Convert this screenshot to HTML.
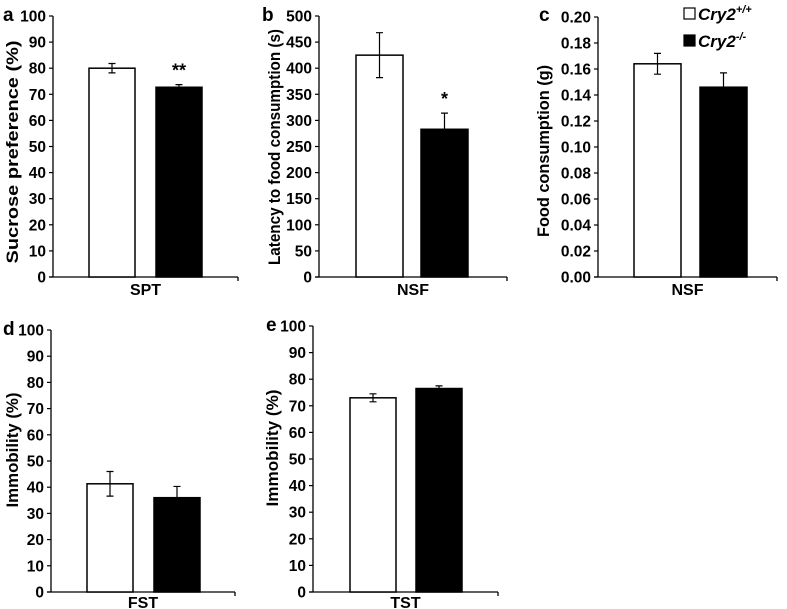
<!DOCTYPE html>
<html><head><meta charset="utf-8"><style>
body{margin:0;background:#fff;}
svg{display:block;font-family:"Liberation Sans",Arial,sans-serif;font-weight:bold;}
</style></head><body>
<svg id="fig" width="787" height="609" viewBox="0 0 787 609"></svg>
<script>
const panelLetters=["a","b","c","d","e"];
const categoryLabels=["SPT","NSF","NSF","FST","TST"];
const yTitles=["Sucrose preference (%)","Latency to food consumption (s)","Food consumption (g)","Immobility (%)","Immobility (%)"];
const wtValues=[80,425,0.164,41.3,73];
const wtErrors=[1.8,43,0.008,4.7,1.5];
const koValues=[72.7,283,0.146,36,76.5];
const koErrors=[1,31,0.011,4.3,1];
const yMax=[100,500,0.2,100,100];
const yStep=[10,50,0.02,10,10];
const tickDecimals=[0,0,2,0,0];
const sigMarks=["**","*","","",""];
const legendLabels=["Cry2","Cry2"];
const legendSups=["+/+","-/-"];
// layout (not data)
const L=[
 {ax:53,top:16,bot:277,end:238,w0:89,w1:156,bw:46,tx:12,tl:223,tc:152,lx:3,ly:21,xl:18},
 {ax:319,top:16,bot:277,end:507,w0:356,w1:421,bw:47,tx:274,tl:236,tc:147,lx:262,ly:21,xl:18},
 {ax:598,top:17,bot:277,end:777,w0:634,w1:700,bw:47,tx:543,tl:172,tc:151,lx:539,ly:21,xl:18},
 {ax:51,top:330,bot:592,end:235,w0:87,w1:154,bw:46,tx:12,tl:115,tc:450,lx:3,ly:335,xl:16},
 {ax:313,top:326,bot:592,end:498,w0:350,w1:416,bw:46,tx:272,tl:117,tc:448,lx:266,ly:331,xl:16}
];
const NS="http://www.w3.org/2000/svg";
const svg=document.getElementById("fig");
function mk(tag,attrs,parent,text){const e=document.createElementNS(NS,tag);for(const k in attrs)e.setAttribute(k,attrs[k]);if(text!==undefined)e.textContent=text;(parent||svg).appendChild(e);return e;}
panelLetters.forEach((p,i)=>{
 const l=L[i];
 const g=mk("g",{});
 
 
 const y=v=>l.bot-(v/yMax[i])*(l.bot-l.top);
 const lt=mk("text",{x:l.lx,y:l.ly,"font-size":19},g,p);
 
 
 const ya=mk("line",{x1:l.ax,y1:l.top,x2:l.ax,y2:l.bot,stroke:"#000","stroke-width":1.3},g);
 
 
 const xa=mk("line",{x1:l.ax-4,y1:l.bot,x2:l.end,y2:l.bot,stroke:"#000","stroke-width":1.3},g);
 
 
 mk("line",{x1:l.end,y1:l.bot,x2:l.end,y2:l.bot+4,stroke:"#000","stroke-width":1.3},g);
 const n=Math.round(yMax[i]/yStep[i]);
 for(let k=0;k<=n;k++){
  const v=k*yStep[i];const yy=y(v);
  mk("line",{x1:l.ax-4,y1:yy,x2:l.ax,y2:yy,stroke:"#000","stroke-width":1.2},g);
  const t=mk("text",{x:l.ax-7,y:yy+5.5,"font-size":15.5,"text-anchor":"end"},g,v.toFixed(tickDecimals[i]));
  
  
 }
 const yt=mk("text",{x:0,y:0,"font-size":17,"text-anchor":"middle",textLength:l.tl,lengthAdjust:"spacingAndGlyphs",transform:`translate(${l.tx+6},${l.tc}) rotate(-90)`},g,yTitles[i]);
 
 
 const xl=mk("text",{x:(l.ax+l.end)/2,y:l.bot+l.xl,"font-size":16,"text-anchor":"middle"},g,categoryLabels[i]);
 
 
 [[wtValues,wtErrors,l.w0,"#fff","bar-wildtype"],[koValues,koErrors,l.w1,"#000","bar-knockout"]].forEach(([vals,errs,x0,fill,name])=>{
  const v=vals[i],e=errs[i];
  const r=mk("rect",{x:x0,y:y(v),width:l.bw,height:l.bot-y(v),fill:fill,stroke:"#000","stroke-width":1.5},g);
  
  
  const cx=x0+l.bw/2;
  const eb=mk("path",{d:`M${cx},${y(v+e)}V${y(v-e)}M${cx-3.5},${y(v+e)}H${cx+3.5}M${cx-3.5},${y(v-e)}H${cx+3.5}`,stroke:"#000","stroke-width":1.2,fill:"none"},g);
  
  
 });
 if(sigMarks[i]){
  const cx=l.w1+l.bw/2;
  const s=mk("text",{x:cx,y:y(koValues[i]+koErrors[i])-8,"font-size":18,"text-anchor":"middle"},g,sigMarks[i]);
  
  
 }
});
// legend
const lg=mk("g",{});


[["#fff",8],["#000",35]].forEach(([f,yy],j)=>{
 const e=mk("g",{},lg);
 
 
 mk("rect",{x:684,y:yy,width:11,height:11,fill:f,stroke:"#000","stroke-width":1.2},e);
 const t=mk("text",{x:698,y:yy+12,"font-size":17,"font-style":"italic"},e,legendLabels[j]);
 mk("tspan",{dy:-7,"font-size":11},t,legendSups[j]);
});
</script>
</body></html>
